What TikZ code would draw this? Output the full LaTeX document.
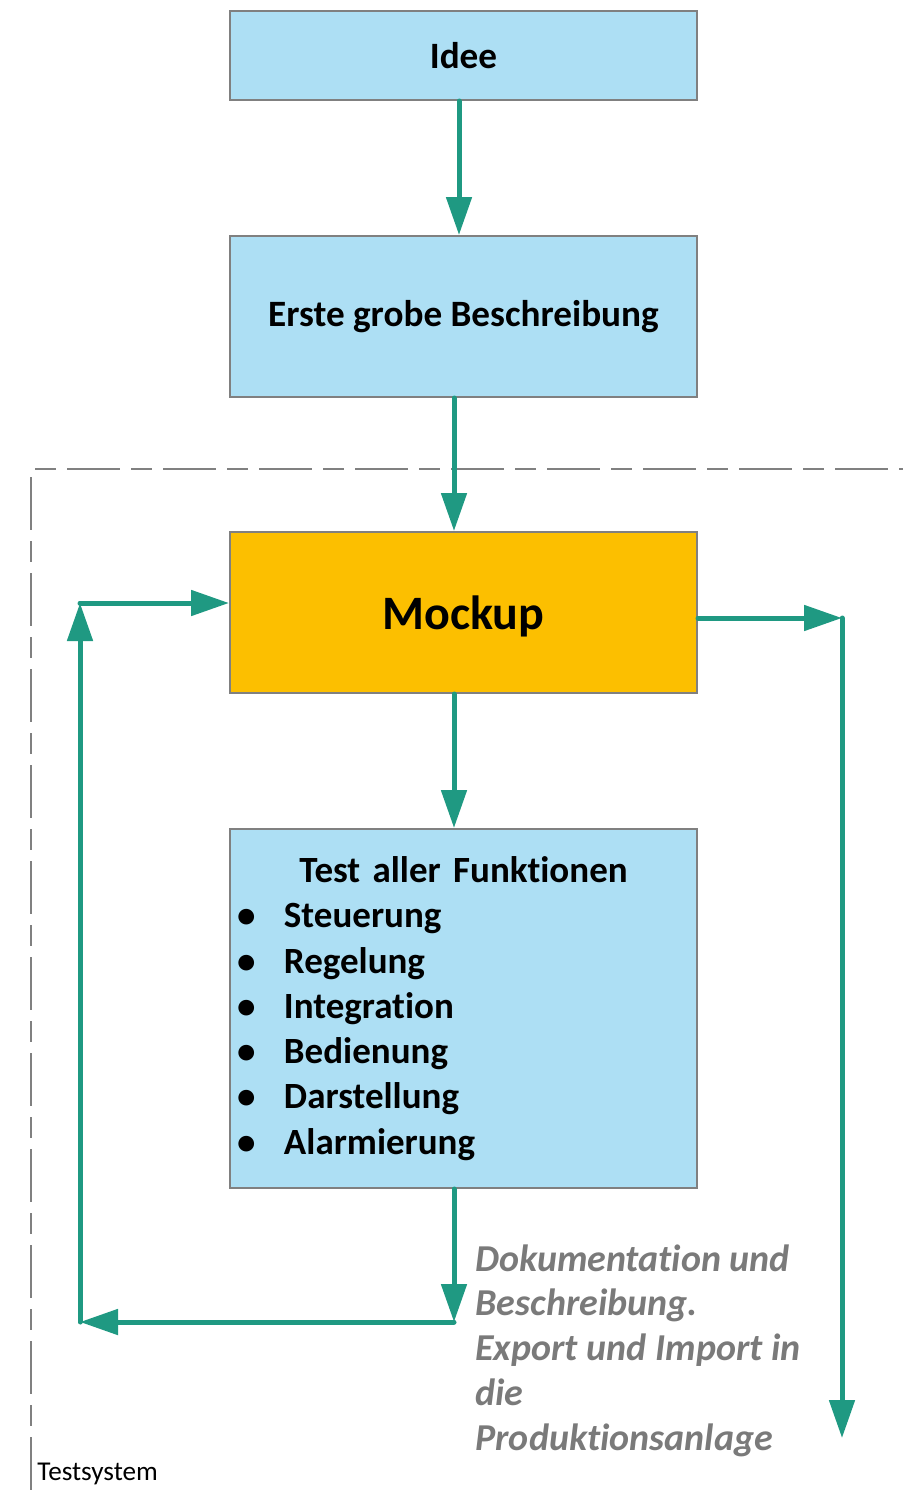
\documentclass[tikz,border=0pt]{standalone}
\usepackage{fontspec}
\setmainfont{Carlito}[Ligatures=NoCommon]
\usetikzlibrary{arrows.meta}
\definecolor{flowteal}{RGB}{31,153,130}
\definecolor{boxblue}{RGB}{173,223,244}
\definecolor{mockfill}{RGB}{252,191,0}
\definecolor{edgegray}{RGB}{128,128,128}
\definecolor{notegray}{RGB}{122,122,122}
\newcommand{\bul}[1]{\makebox[227.5pt][l]{\makebox[24pt][l]{\hspace{0.5pt}\textbullet}#1}}
\begin{document}
\begin{tikzpicture}[x=0.5pt,y=-0.5pt,
  box/.style={draw=edgegray, line width=1pt, fill=boxblue, minimum width=233.5pt, inner sep=0pt,
    font=\bfseries\fontsize{18.6}{22}\selectfont},
  flow/.style={draw=flowteal, line width=2.5pt, line cap=round, -{Triangle[length=19pt,width=12.5pt]}},
  frame/.style={draw=edgegray, line width=1.2pt},
]
\useasboundingbox (0,0) rectangle (903,1490);
% test system frame
\draw[frame, dash pattern=on 10.5pt off 5.5pt on 26.5pt off 5.5pt] (35,469) -- (903,469);
\draw[frame, dash pattern=on 26.5pt off 5.5pt on 10.5pt off 5.5pt] (31,477) -- (31,1490);
\node[anchor=base west, inner sep=0pt, font=\fontsize{13.6}{15}\selectfont] (ts) at (37,1480) {Testsystem};
% boxes
\node[box, minimum height=44.5pt] (idee) at (463.5,55.5) {Idee};
\node[box, minimum height=80.5pt] (erste) at (463.5,316.5) {Erste grobe Beschreibung};
\node[box, minimum height=80.5pt, fill=mockfill, text height=17pt, text depth=0pt,
  font=\bfseries\fontsize{24}{28}\selectfont] (mock) at (463.5,612.5) {Mockup};
\node[box, minimum height=179.5pt, text width=227.5pt, align=center, inner xsep=3pt,
  font=\bfseries\fontsize{18.5}{22.65}\selectfont] (test) at (463.5,1008.5)
  {Test aller Funktionen\\\bul{Steuerung}\\\bul{Regelung}\\\bul{Integration}\\\bul{Bedienung}\\\bul{Darstellung}\\\bul{Alarmierung}};
% note
\node[anchor=north west, inner sep=0pt, align=left, text=notegray,
  font=\bfseries\itshape\fontsize{19}{22.4}\selectfont] (doc) at (475,1244)
  {Dokumentation und\\Beschreibung.\\Export und Import in\\die\\Produktionsanlage};
% connectors
\draw[flow] ([xshift=-2.25pt]idee.south) -- ([xshift=-2.25pt]erste.north);
\draw[flow] ([xshift=-4.75pt]erste.south) -- ([xshift=-4.75pt]mock.north);
\draw[flow] ([xshift=-4.75pt]mock.south) -- ([xshift=-4.75pt]test.north);
\coordinate (lb) at (454,1322);
\coordinate (ll) at (80,1322);
\coordinate (lt) at (80,603);
\draw[flow] ([xshift=-4.75pt]test.south) -- (lb);
\draw[flow] (lb) -- (ll);
\draw[flow] (ll) -- (lt);
\draw[flow] (lt) -- (lt -| mock.west);
\coordinate (rt) at (842,618);
\coordinate (rb) at (842,1438);
\draw[flow] (mock.east |- rt) -- (rt);
\draw[flow] (rt) -- (rb);
\end{tikzpicture}
\end{document}
